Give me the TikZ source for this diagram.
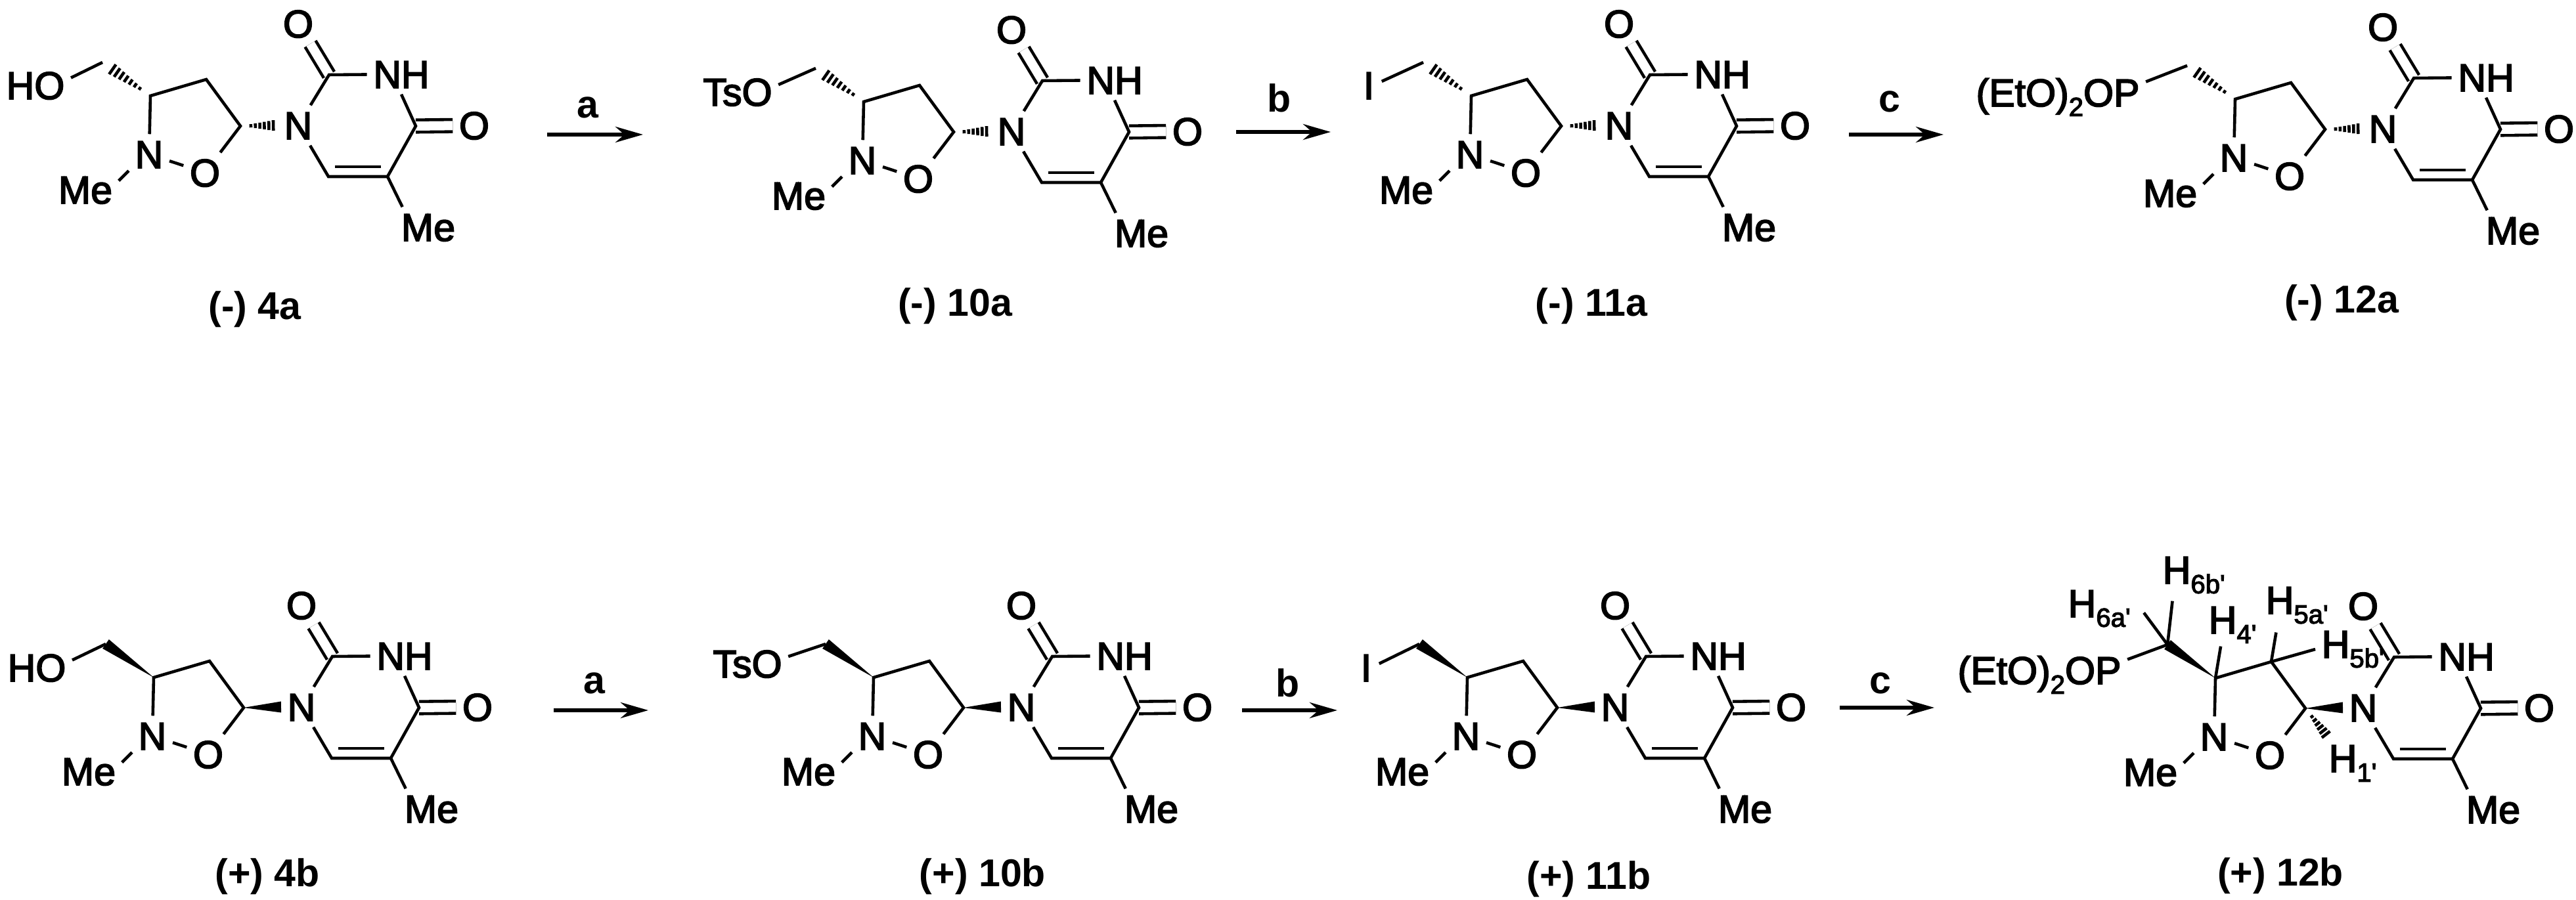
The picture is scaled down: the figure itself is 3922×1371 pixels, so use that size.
\documentclass[tikz,border=0pt]{standalone}
\usepackage{fontspec}
\usepackage{tikz}
\usetikzlibrary{positioning, arrows.meta, calc}
\setmainfont{Liberation Sans}
\newfontfamily\atomfont[FakeBold=3]{Liberation Sans}

\newcommand{\subtxt}[1]{\raisebox{-4.2pt}{\fontsize{11.4}{12}\selectfont #1}}

\tikzset{
    bond/.style={line width=1.3pt},
    dbl/.style={bond, double, double distance=0.14cm},
    atom/.style={inner sep=0.09cm, text height=0.42cm, text depth=0pt, minimum width=0.38cm, font=\fontsize{16.8}{20}\atomfont},
    hlabel/.style={atom, anchor=base west},
    cpd/.style={anchor=base, inner sep=0pt, font=\fontsize{16.8}{20}\bfseries},
    reagent/.style={anchor=base, inner sep=0pt, font=\fontsize{16.8}{20}\bfseries},
    rxn/.style={line width=1.6pt, -{Stealth[length=0.42cm, width=0.24cm]}}
}

% stereo bonds, the option is how far along the bond they stop
\newcommand{\hashbond}[3][1]{
    \foreach \tval in {0.28,0.40,0.52,0.64,0.76,0.88,1.0} {
        \pgfmathsetmacro{\hpos}{\tval*#1}
        \pgfmathsetmacro{\hwid}{0.09*\tval}
        \draw[bond] ($(#2)!\hpos!(#3)!\hwid cm!90:(#3)$) -- ($(#2)!\hpos!(#3)!\hwid cm!-90:(#3)$);
    }
}
\newcommand{\wedgebond}[3][1]{
    \fill (#2) -- ($(#3)!0.085cm!90:(#2)$) -- ($(#3)!0.085cm!-90:(#2)$) -- cycle;
}

% #1 prefix, #2 #3 base nitrogen, #4 stereo bond, #5 side chain, #6 #7 its offset, #8 anchor angle
\newcommand{\molecule}[8]{
    \begin{scope}[shift={(#2,#3)}]
        \node[atom] (#1N1) at (0,0) {N};
        \node[atom] (#1O2) at (0,-155) {O};
        \node[atom] (#1NH) at (157,-78) {NH};
        \node[atom] (#1O4) at (268,0) {O};
        \node[atom] (#1Me5) at (198,155) {Me};
        \node[atom] (#1N2) at (-227,44) {N};
        \node[atom] (#1O1) at (-142,72) {O};
        \node[atom] (#1Me) at (-324,98) {Me};
        \node[atom] (#1R) at (#6,#7) {#5};
        \coordinate (#1C2) at (47,-77);
        \coordinate (#1C4) at (179,1);
        \coordinate (#1C5) at (136,78);
        \coordinate (#1C6) at (46,78);
        \coordinate (#1Ca) at (56,63);
        \coordinate (#1Cb) at (126,63);
        \coordinate (#1H4) at (-225,-45);
        \coordinate (#1H3) at (-140,-70);
        \coordinate (#1H1) at (-88,1);
        \coordinate (#1CH) at (-298,-96);

        \draw[dbl] (#1C2) -- (#1O2);
        \draw[dbl] (#1C4) -- (#1O4);
        \draw[bond] (#1N1) -- (#1C2) -- (#1NH);
        \draw[bond] (#1NH.south) -- (#1C4) -- (#1C5) -- (#1C6) -- (#1N1);
        \draw[bond] (#1Ca) -- (#1Cb);
        \draw[bond] (#1C5) -- (#1Me5.142);
        \draw[bond] (#1N2) -- (#1H4) -- (#1H3) -- (#1H1) -- (#1O1) -- (#1N2);
        \draw[bond] (#1N2.-141) -- (#1Me.15);
        \draw[bond] (#1CH) -- (#1R.#8);
        #4[0.79]{#1H4}{#1CH}
        #4[1]{#1H1}{#1N1.west}
    \end{scope}
}

\begin{document}
\begin{tikzpicture}[x=0.01cm, y=-0.01cm]
    \useasboundingbox (0,0) rectangle (3922,1371);

    \molecule{p}{454}{191}{\hashbond}{HO}{-400}{-61}{12}
    \molecule{q}{1540}{200}{\hashbond}{TsO}{-417}{-60}{10}
    \molecule{r}{2465}{191}{\hashbond}{I}{-381}{-61}{17}
    \molecule{s}{3628}{196}{\hashbond}{(EtO)\subtxt{2}OP}{-495}{-55}{7}
    \molecule{t}{459}{1077}{\wedgebond}{HO}{-403}{-60}{12}
    \molecule{u}{1555}{1077}{\wedgebond}{TsO}{-417}{-66}{10}
    \molecule{v}{2459}{1077}{\wedgebond}{I}{-379}{-60}{17}
    \molecule{w}{3598}{1078}{\wedgebond}{(EtO)\subtxt{2}OP}{-493}{-57}{7}

    % reaction arrows
    \foreach \nm/\xs/\xe/\ya/\lx/\ly/\lab in {
        a1/833/979/205/895/180/a, b1/1882/2026/201/1948/171/b, c1/2815/2959/205/2877/171/c,
        a2/843/987/1082/905/1057/a, b2/1891/2036/1082/1961/1061/b, c2/2801/2945/1078/2863/1057/c} {
        \coordinate (s\nm) at (\xs,\ya);
        \coordinate (e\nm) at (\xe,\ya);
        \draw[rxn] (s\nm) -- (e\nm);
        \node[reagent] (r\nm) at (\lx,\ly) {\lab};
    }

    % compound numbers
    \node[cpd] (c4a) at (388,487) {(-) 4a};
    \node[cpd] (c10a) at (1454,482) {(-) 10a};
    \node[cpd] (c11a) at (2423,482) {(-) 11a};
    \node[cpd] (c12a) at (3565,477) {(-) 12a};
    \node[cpd] (c4b) at (407,1350) {(+) 4b};
    \node[cpd] (c10b) at (1496,1350) {(+) 10b};
    \node[cpd] (c11b) at (2419,1354) {(+) 11b};
    \node[cpd] (c12b) at (3472,1349) {(+) 12b};

    % assigned protons on 12b
    \node[hlabel] (H6a) at (3139,940) {H\subtxt{6a'}};
    \node[hlabel] (H6b) at (3283,889) {H\subtxt{6b'}};
    \node[hlabel] (H4) at (3353,965) {H\subtxt{4'}};
    \node[hlabel] (H5a) at (3440,935) {H\subtxt{5a'}};
    \node[hlabel] (H5b) at (3525,1002) {H\subtxt{5b'}};
    \node[hlabel] (H1) at (3536,1176) {H\subtxt{1'}};

    \draw[bond, shorten >=0.18cm] (wCH) -- (H6a.east);
    \draw[bond, shorten >=0.17cm] (wCH) -- (H6b.-135);
    \draw[bond, shorten >=0.1cm] (wH4) -- (H4.-118);
    \draw[bond, shorten >=0.19cm] (wH3) -- (H5a.-133);
    \draw[bond] (wH3) -- (H5b.188);
    \hashbond[1]{wH1}{H1.140}
\end{tikzpicture}
\end{document}
